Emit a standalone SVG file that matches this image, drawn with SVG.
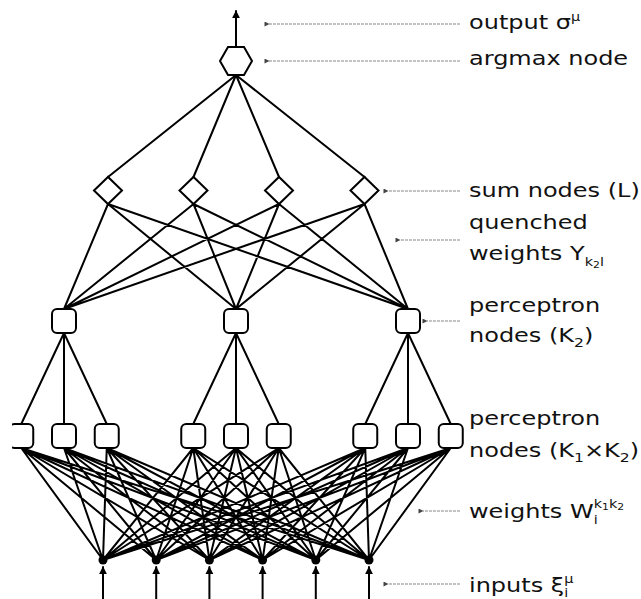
<svg xmlns="http://www.w3.org/2000/svg" width="641" height="599" viewBox="0 0 641 599">
<defs>
<style>
.e{stroke:#000;stroke-width:2;fill:none;stroke-linecap:round}
.n{fill:#fff;stroke:#000;stroke-width:2}
.ld{stroke:#888;stroke-width:1.2;stroke-dasharray:3,1;fill:none}
.t{font-family:"DejaVu Sans",sans-serif;font-size:20px;fill:#111}
</style>
<marker id="ah" viewBox="0 0 10 10" refX="9" refY="5" markerWidth="8" markerHeight="9" orient="auto" markerUnits="userSpaceOnUse"><path d="M0,0 L10,5 L0,10 z" fill="#000"/></marker>
<marker id="lh" viewBox="0 0 10 10" refX="1" refY="5" markerWidth="6" markerHeight="5" orient="auto-start-reverse" markerUnits="userSpaceOnUse"><path d="M0,5 L10,0 L10,10 z" fill="#444"/></marker>
<clipPath id="cl"><rect x="12" y="0" width="629" height="599"/></clipPath>
</defs>
<rect width="641" height="599" fill="#fff"/>
<g id="connectors">
<line class="e" x1="236" y1="47" x2="236" y2="11" marker-end="url(#ah)"/>
<path class="e" d="M236,75 L108,177 M236,75 L193.5,177 M236,75 L279,177 M236,75 L364.5,177"/>
<path class="e" d="M108,204 L64,309 M108,204 L236,309 M108,204 L408,309 M193.5,204 L64,309 M193.5,204 L236,309 M193.5,204 L408,309 M279,204 L64,309 M279,204 L236,309 M279,204 L408,309 M364.5,204 L64,309 M364.5,204 L236,309 M364.5,204 L408,309"/>
<path class="e" d="M64,333 L21.25,424 M64,333 L64,424 M64,333 L106.75,424 M236,333 L193.25,424 M236,333 L236,424 M236,333 L278.75,424 M408,333 L365.25,424 M408,333 L408,424 M408,333 L450.75,424"/>
<path class="e" d="M21.25,448 L103,560 M21.25,448 L156.2,560 M21.25,448 L209.4,560 M21.25,448 L262.6,560 M21.25,448 L315.8,560 M21.25,448 L369,560
M64,448 L103,560 M64,448 L156.2,560 M64,448 L209.4,560 M64,448 L262.6,560 M64,448 L315.8,560 M64,448 L369,560
M106.75,448 L103,560 M106.75,448 L156.2,560 M106.75,448 L209.4,560 M106.75,448 L262.6,560 M106.75,448 L315.8,560 M106.75,448 L369,560
M193.25,448 L103,560 M193.25,448 L156.2,560 M193.25,448 L209.4,560 M193.25,448 L262.6,560 M193.25,448 L315.8,560 M193.25,448 L369,560
M236,448 L103,560 M236,448 L156.2,560 M236,448 L209.4,560 M236,448 L262.6,560 M236,448 L315.8,560 M236,448 L369,560
M278.75,448 L103,560 M278.75,448 L156.2,560 M278.75,448 L209.4,560 M278.75,448 L262.6,560 M278.75,448 L315.8,560 M278.75,448 L369,560
M365.25,448 L103,560 M365.25,448 L156.2,560 M365.25,448 L209.4,560 M365.25,448 L262.6,560 M365.25,448 L315.8,560 M365.25,448 L369,560
M408,448 L103,560 M408,448 L156.2,560 M408,448 L209.4,560 M408,448 L262.6,560 M408,448 L315.8,560 M408,448 L369,560
M450.75,448 L103,560 M450.75,448 L156.2,560 M450.75,448 L209.4,560 M450.75,448 L262.6,560 M450.75,448 L315.8,560 M450.75,448 L369,560"/>
<line class="e" x1="103" y1="599" x2="103" y2="567" marker-end="url(#ah)"/>
<line class="e" x1="156.2" y1="599" x2="156.2" y2="567" marker-end="url(#ah)"/>
<line class="e" x1="209.4" y1="599" x2="209.4" y2="567" marker-end="url(#ah)"/>
<line class="e" x1="262.6" y1="599" x2="262.6" y2="567" marker-end="url(#ah)"/>
<line class="e" x1="315.8" y1="599" x2="315.8" y2="567" marker-end="url(#ah)"/>
<line class="e" x1="369" y1="599" x2="369" y2="567" marker-end="url(#ah)"/>
</g>
<g id="leaders">
<line class="ld" x1="460" y1="24" x2="269" y2="24" marker-end="url(#lh)"/>
<line class="ld" x1="460" y1="61" x2="269" y2="61" marker-end="url(#lh)"/>
<line class="ld" x1="460" y1="191" x2="388" y2="191" marker-end="url(#lh)"/>
<line class="ld" x1="460" y1="240" x2="400" y2="240" marker-end="url(#lh)"/>
<line class="ld" x1="460" y1="321" x2="427" y2="321" marker-end="url(#lh)"/>
<line class="ld" x1="460" y1="511" x2="423" y2="511" marker-end="url(#lh)"/>
<line class="ld" x1="460" y1="584" x2="388" y2="584" marker-end="url(#lh)"/>
</g>
<g id="argmax"><polygon class="n" points="220,61 228,47 244,47 252,61 244,75 228,75"/></g>
<g id="sum1"><polygon class="n" points="94,190.5 108,177 122,190.5 108,204"/></g>
<g id="sum2"><polygon class="n" points="179.5,190.5 193.5,177 207.5,190.5 193.5,204"/></g>
<g id="sum3"><polygon class="n" points="265,190.5 279,177 293,190.5 279,204"/></g>
<g id="sum4"><polygon class="n" points="350.5,190.5 364.5,177 378.5,190.5 364.5,204"/></g>
<g id="p2a"><rect class="n" x="52" y="309" width="24" height="24" rx="5"/></g>
<g id="p2b"><rect class="n" x="224" y="309" width="24" height="24" rx="5"/></g>
<g id="p2c"><rect class="n" x="396" y="309" width="24" height="24" rx="5"/></g>
<g id="p1a" clip-path="url(#cl)"><rect class="n" x="9.25" y="424" width="24" height="24" rx="5"/></g>
<g id="p1b"><rect class="n" x="52" y="424" width="24" height="24" rx="5"/></g>
<g id="p1c"><rect class="n" x="94.75" y="424" width="24" height="24" rx="5"/></g>
<g id="p1d"><rect class="n" x="181.25" y="424" width="24" height="24" rx="5"/></g>
<g id="p1e"><rect class="n" x="224" y="424" width="24" height="24" rx="5"/></g>
<g id="p1f"><rect class="n" x="266.75" y="424" width="24" height="24" rx="5"/></g>
<g id="p1g"><rect class="n" x="353.25" y="424" width="24" height="24" rx="5"/></g>
<g id="p1h"><rect class="n" x="396" y="424" width="24" height="24" rx="5"/></g>
<g id="p1i"><rect class="n" x="438.75" y="424" width="24" height="24" rx="5"/></g>
<g id="in1"><circle cx="103" cy="560" r="4.5"/></g>
<g id="in2"><circle cx="156.2" cy="560" r="4.5"/></g>
<g id="in3"><circle cx="209.4" cy="560" r="4.5"/></g>
<g id="in4"><circle cx="262.6" cy="560" r="4.5"/></g>
<g id="in5"><circle cx="315.8" cy="560" r="4.5"/></g>
<g id="in6"><circle cx="369" cy="560" r="4.5"/></g>
<g id="labels">
<g transform="translate(469,29) scale(1.2,1)"><text class="t">output σ<tspan font-size="12" dy="-8">μ</tspan></text></g>
<g transform="translate(469,65) scale(1.2,1)"><text class="t">argmax node</text></g>
<g transform="translate(469,197) scale(1.2,1)"><text class="t">sum nodes (L)</text></g>
<g transform="translate(469,229) scale(1.2,1)"><text class="t">quenched</text></g>
<g transform="translate(469,260) scale(1.2,1)"><text class="t">weights Y<tspan font-size="12" dy="6">k</tspan><tspan font-size="9" dy="2">2</tspan><tspan font-size="12" dy="-2">l</tspan></text></g>
<g transform="translate(469,312) scale(1.2,1)"><text class="t">perceptron</text></g>
<g transform="translate(469,342) scale(1.2,1)"><text class="t">nodes (K<tspan font-size="13" dy="5">2</tspan><tspan dy="-5">)</tspan></text></g>
<g transform="translate(469,425) scale(1.2,1)"><text class="t">perceptron</text></g>
<g transform="translate(469,457) scale(1.2,1)"><text class="t">nodes (K<tspan font-size="13" dy="5">1</tspan><tspan dy="-5">×K</tspan><tspan font-size="13" dy="5">2</tspan><tspan dy="-5">)</tspan></text></g>
<g transform="translate(469,518) scale(1.2,1)"><text class="t">weights W<tspan font-size="12" dy="6">i</tspan><tspan font-size="12" dx="-3.3" dy="-16">k</tspan><tspan font-size="9" dy="2">1</tspan><tspan font-size="12" dy="-2">k</tspan><tspan font-size="9" dy="2">2</tspan></text></g>
<g transform="translate(469,592) scale(1.2,1)"><text class="t">inputs ξ<tspan font-size="12" dy="5">i</tspan><tspan font-size="12" dx="-3.3" dy="-14">μ</tspan></text></g>
</g>
</svg>
